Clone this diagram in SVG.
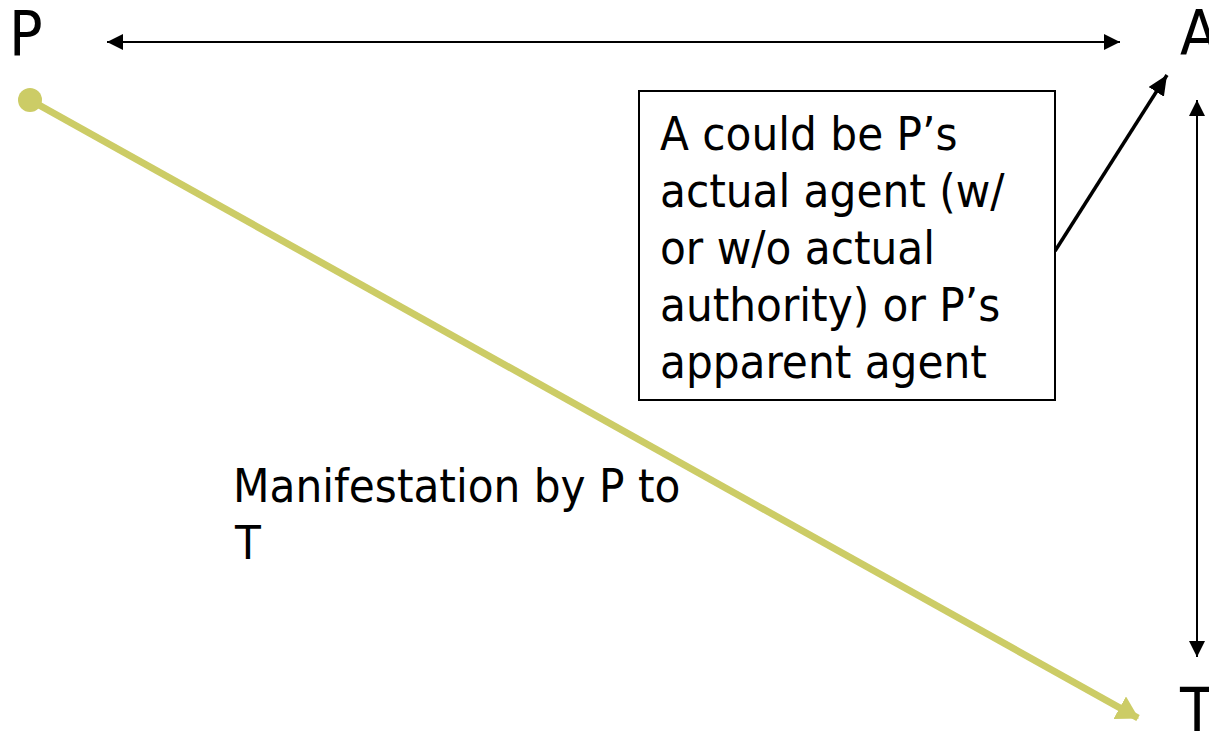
<svg xmlns="http://www.w3.org/2000/svg" width="1209" height="731" viewBox="0 0 1209 731">
  <style>
    .lbl { font-family: "DejaVu Sans Condensed", "DejaVu Sans", sans-serif; font-stretch: condensed; fill: #000; }
    .big { font-size: 62px; }
    .txt { font-size: 47px; }
    .thin { stroke: #000; stroke-width: 2; fill: none; }
    .thick { stroke: #000; stroke-width: 3.5; fill: none; }
    .olive { stroke: #CCCC66; stroke-width: 7; fill: none; }
  </style>
  <defs>
    <marker id="ah" markerUnits="userSpaceOnUse" viewBox="0 0 16 16" refX="16" refY="8" markerWidth="16" markerHeight="16" orient="auto-start-reverse">
      <path d="M0,0 L16,8 L0,16 z" fill="#000"/>
    </marker>
    <marker id="ahThick" markerUnits="userSpaceOnUse" viewBox="0 0 20 18" refX="20" refY="9" markerWidth="20" markerHeight="18" orient="auto">
      <path d="M0,0 L20,9 L0,18 z" fill="#000"/>
    </marker>
    <marker id="ahOlive" markerUnits="userSpaceOnUse" viewBox="0 0 22 26" refX="21" refY="13" markerWidth="22" markerHeight="26" orient="auto">
      <path d="M0,0 L22,13 L0,26 z" fill="#CCCC66"/>
    </marker>
  </defs>

  <g id="connectors">
    <line class="thin" x1="107" y1="42" x2="1120" y2="42" marker-start="url(#ah)" marker-end="url(#ah)"/>
    <line class="thin" x1="1197" y1="100" x2="1197" y2="657" marker-start="url(#ah)" marker-end="url(#ah)"/>
    <line class="thick" x1="1055" y1="251" x2="1167" y2="75" marker-end="url(#ahThick)"/>
    <line class="olive" x1="30" y1="100" x2="1138" y2="718" marker-end="url(#ahOlive)"/>
    <circle cx="30" cy="100" r="12" fill="#CCCC66"/>
  </g>

  <g id="node-P">
    <text class="lbl big" x="9" y="55">P</text>
  </g>
  <g id="node-A">
    <text class="lbl big" x="1180" y="55">A</text>
  </g>
  <g id="node-T">
    <text class="lbl big" x="1180" y="732">T</text>
  </g>

  <g id="node-note">
    <rect x="639" y="91" width="416" height="309" fill="#fff" stroke="#000" stroke-width="2"/>
    <text class="lbl txt" x="660" y="150">A could be P’s</text>
    <text class="lbl txt" x="660" y="207">actual agent (w/</text>
    <text class="lbl txt" x="660" y="264">or w/o actual</text>
    <text class="lbl txt" x="660" y="321">authority) or P’s</text>
    <text class="lbl txt" x="660" y="378">apparent agent</text>
  </g>

  <g id="label-manifestation">
    <text class="lbl txt" x="233" y="502">Manifestation by P to</text>
    <text class="lbl txt" x="235" y="559">T</text>
  </g>
</svg>
